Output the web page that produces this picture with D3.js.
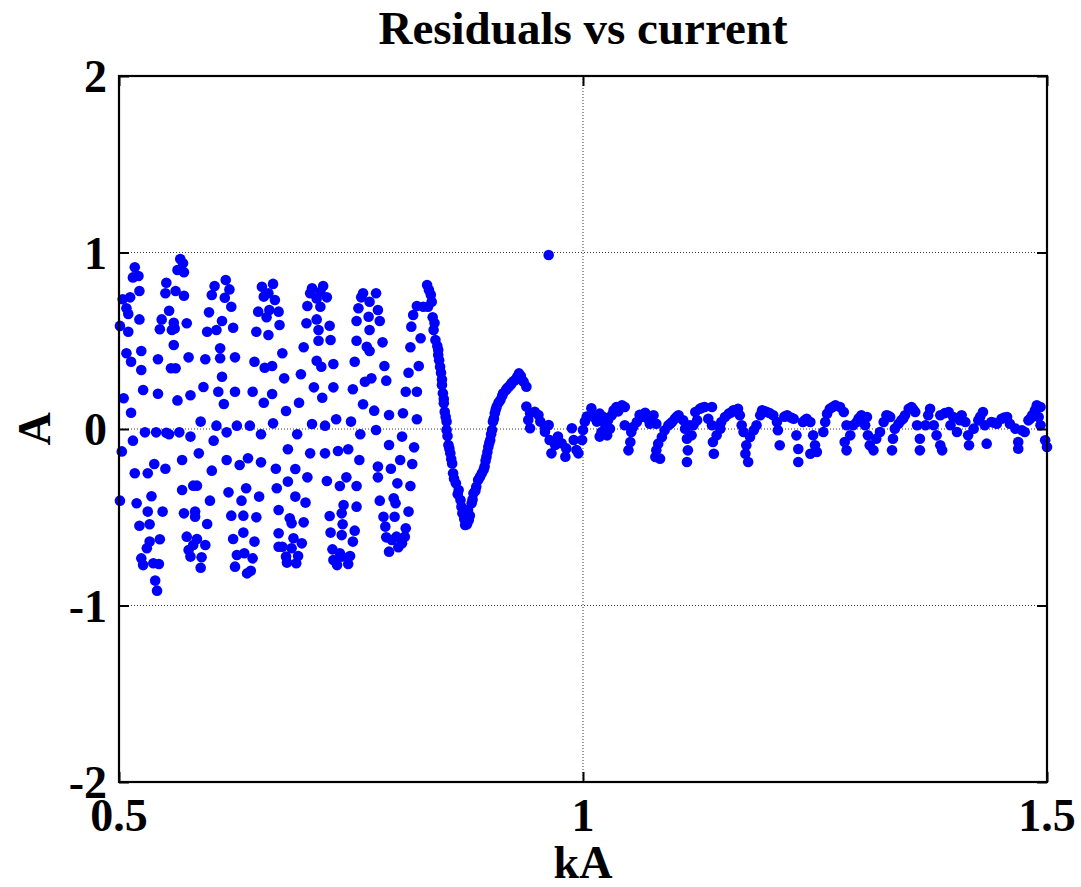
<!DOCTYPE html>
<html>
<head>
<meta charset="utf-8">
<script src="https://cdn.jsdelivr.net/npm/d3@7"></script>
<style>
  html, body { margin: 0; padding: 0; background: #fff; }
  svg { display: block; }
</style>
</head>
<body>
<svg id="chart" width="1081" height="887"></svg>
<script>
// Axis ticks and labels
const xTicks = [0.5, 1, 1.5];
const xTickLabels = ["0.5", "1", "1.5"];
const yTicks = [-2, -1, 0, 1, 2];
const yTickLabels = ["-2", "-1", "0", "1", "2"];
const titleText = "Residuals vs current";
const xLabelText = "kA";
const yLabelText = "A";

// Residual samples [current kA, residual A]
// Low-current band (0.50 - 0.83 kA)
const bandPoints = [
  [0.517,0.916],[0.515,0.859],[0.521,0.867],[0.522,0.782],[0.504,0.735],[0.512,0.746],[0.508,0.684],[0.510,0.652],
  [0.501,0.584],[0.510,0.551],[0.522,0.621],[0.508,0.429],[0.513,0.381],[0.524,0.442],[0.524,0.334],[0.505,0.174],
  [0.513,0.092],[0.526,0.221],[0.503,-0.127],[0.515,-0.066],[0.528,-0.019],[0.540,-0.019],[0.551,-0.021],[0.554,-0.030],
  [0.565,-0.019],[0.577,-0.043],[0.517,-0.251],[0.531,-0.251],[0.538,-0.198],[0.550,-0.225],[0.501,-0.406],[0.519,-0.421],
  [0.535,-0.381],[0.531,-0.468],[0.522,-0.548],[0.533,-0.540],[0.547,-0.468],[0.533,-0.638],[0.530,-0.676],[0.544,-0.625],
  [0.524,-0.733],[0.526,-0.771],[0.537,-0.761],[0.543,-0.765],[0.539,-0.859],[0.541,-0.916],
  [0.566,0.963],[0.569,0.939],[0.563,0.901],[0.570,0.888],[0.551,0.829],[0.550,0.769],[0.561,0.782],[0.570,0.755],
  [0.554,0.670],[0.546,0.621],[0.559,0.602],[0.573,0.599],[0.544,0.565],[0.557,0.561],[0.560,0.570],[0.559,0.476],
  [0.542,0.395],[0.575,0.406],[0.556,0.344],[0.561,0.344],[0.542,0.200],[0.563,0.162],[0.577,0.191],[0.591,0.238],
  [0.588,0.042],[0.586,-0.138],[0.568,-0.176],[0.600,-0.236],[0.580,-0.321],[0.584,-0.321],[0.568,-0.346],[0.598,-0.406],
  [0.570,-0.478],[0.582,-0.468],[0.582,-0.497],[0.595,-0.538],[0.573,-0.610],[0.584,-0.623],[0.593,-0.657],[0.575,-0.686],
  [0.577,-0.723],[0.589,-0.727],[0.588,-0.786],[0.580,-0.657],
  [0.615,0.844],[0.603,0.810],[0.619,0.791],[0.600,0.759],[0.614,0.744],[0.621,0.693],[0.597,0.661],[0.611,0.612],
  [0.595,0.551],[0.605,0.561],[0.623,0.574],[0.609,0.457],[0.609,0.401],[0.625,0.406],[0.593,0.395],[0.611,0.296],
  [0.607,0.211],[0.613,0.142],[0.625,0.211],[0.605,0.019],[0.602,-0.066],[0.616,-0.019],[0.627,0.019],[0.616,-0.176],
  [0.630,-0.204],[0.639,-0.166],[0.618,-0.359],[0.637,-0.336],[0.632,-0.406],[0.651,-0.383],[0.621,-0.491],[0.634,-0.491],
  [0.648,-0.500],[0.623,-0.623],[0.634,-0.587],[0.646,-0.638],[0.627,-0.714],[0.635,-0.704],[0.625,-0.780],[0.644,-0.733],
  [0.638,-0.818],[0.642,-0.803],
  [0.654,0.806],[0.656,0.750],[0.661,0.769],[0.650,0.665],[0.662,0.674],[0.659,0.633],[0.648,0.551],[0.661,0.533],
  [0.646,0.381],[0.657,0.347],[0.665,0.357],[0.644,0.211],[0.656,0.149],[0.665,0.198],[0.641,0.019],[0.653,-0.030],
  [0.666,0.032],[0.653,-0.189],[0.669,-0.225],[0.670,-0.336],[0.672,-0.459],[0.672,-0.591],[0.672,-0.667],[0.666,0.822],
  [0.668,0.731],[0.672,0.665],
  [0.673,0.589],[0.676,0.429],[0.678,0.287],[0.680,0.102],[0.682,-0.115],
  [0.676,-0.667],[0.680,-0.723],[0.681,-0.757],[0.693,-0.720],[0.691,-0.761],[0.686,-0.676],[0.688,-0.619],[0.697,-0.648],
  [0.684,-0.506],[0.686,-0.534],[0.699,-0.529],[0.690,-0.383],[0.701,-0.417],
  [0.682,-0.298],[0.690,-0.227],[0.703,-0.274],[0.692,-0.030],[0.706,-0.138],
  [0.694,0.149],[0.696,0.310],[0.699,0.463],[0.702,0.599],[0.703,0.697],
  [0.708,0.797],[0.706,0.769],[0.720,0.810],[0.717,0.778],[0.724,0.746],[0.713,0.740],[0.717,0.693],[0.713,0.621],
  [0.715,0.561],[0.727,0.585],[0.715,0.500],[0.728,0.504],[0.713,0.387],[0.718,0.353],[0.731,0.368],
  [0.710,0.236],[0.719,0.177],[0.731,0.236],[0.708,0.028],[0.722,0.019],[0.734,0.055],[0.750,0.042],
  [0.722,-0.138],[0.736,-0.125],[0.747,-0.115],[0.759,-0.176],[0.724,-0.295],[0.738,-0.323],[0.745,-0.274],[0.756,-0.323],
  [0.727,-0.493],[0.740,-0.478],[0.742,-0.431],[0.756,-0.440],[0.728,-0.587],[0.740,-0.601],[0.741,-0.540],[0.754,-0.576],
  [0.752,-0.638],[0.730,-0.682],[0.731,-0.742],[0.738,-0.704],[0.735,-0.771],[0.747,-0.765],[0.749,-0.720],[0.740,-0.723],
  [0.763,0.769],[0.761,0.746],[0.777,0.769],[0.770,0.721],[0.779,0.674],[0.758,0.684],[0.769,0.636],[0.756,0.612],
  [0.781,0.612],[0.770,0.561],[0.756,0.500],[0.767,0.466],[0.770,0.442],[0.784,0.491],[0.754,0.381],[0.786,0.357],
  [0.765,0.268],[0.772,0.287],[0.788,0.274],[0.752,0.225],[0.763,0.140],[0.775,0.104],[0.791,0.079],[0.760,-0.030],
  [0.777,-0.006],[0.806,0.089],[0.821,0.055],[0.805,-0.043],[0.791,-0.091],[0.818,-0.104],
  [0.779,-0.213],[0.793,-0.225],[0.803,-0.176],[0.816,-0.198],[0.779,-0.274],[0.800,-0.308],[0.814,-0.323],
  [0.781,-0.406],[0.796,-0.393],[0.798,-0.421],[0.812,-0.468],[0.785,-0.497],[0.787,-0.553],[0.797,-0.497],[0.809,-0.563],
  [0.788,-0.614],[0.794,-0.629],[0.799,-0.610],[0.805,-0.648],[0.808,-0.610],[0.791,-0.695],[0.801,-0.670],
  [0.821,0.697],[0.817,0.646],[0.815,0.580],[0.825,0.514],[0.814,0.463],[0.823,0.357],[0.812,0.319],[0.809,0.211],
  [0.821,0.211]
];

// Transition swing (0.83 - 1.02 kA)
const transitionPoints = [
  [0.832,0.816],[0.834,0.788],[0.837,0.721],[0.833,0.693],[0.838,0.633],[0.828,0.693],[0.839,0.561],[0.841,0.504],
  [0.844,0.448],[0.844,0.419],[0.846,0.353],[0.847,0.319],[0.848,0.249],[0.849,0.202],[0.850,0.146],[0.851,0.098],
  [0.853,0.042],[0.853,-0.006],[0.855,-0.091],[0.857,-0.138],[0.859,-0.195],[0.860,-0.251],[0.863,-0.308],[0.866,-0.346],
  [0.868,-0.402],[0.870,-0.478],[0.873,-0.544],[0.877,-0.516],[0.876,-0.459],[0.880,-0.421],[0.882,-0.364],[0.885,-0.327],
  [0.887,-0.289],[0.891,-0.251],[0.894,-0.213],[0.896,-0.157],[0.898,-0.100],[0.900,-0.062],[0.902,-0.006],[0.903,0.042],
  [0.905,0.089],[0.907,0.127],[0.911,0.164],[0.914,0.202],[0.917,0.221],[0.920,0.240],[0.923,0.259],[0.927,0.278],
  [0.931,0.315],[0.936,0.268],[0.939,0.240],[0.939,0.127],[0.943,0.089],[0.941,0.051],[0.943,0.004],[0.948,0.098],
  [0.952,0.079],[0.954,0.042],[0.959,0.013],[0.963,0.023],[0.959,-0.015],[0.964,-0.062],[0.966,-0.138],[0.970,-0.091],
  [0.973,-0.043],[0.977,-0.081],[0.981,-0.157],[0.982,-0.110],[0.988,0.004],[0.990,-0.062],[0.993,-0.119],[0.995,-0.138],
  [0.999,-0.062],[1.000,-0.006],[1.002,0.042],[1.004,0.070],[1.009,0.117],[1.011,0.070],[1.015,0.042],[1.018,-0.043],
  [0.836,0.760],[0.840,0.600],[0.843,0.470],[0.845,0.390],[0.848,0.280],[0.850,0.170],[0.852,0.070],[0.854,-0.040],
  [0.856,-0.110],[0.858,-0.170],[0.861,-0.280],[0.865,-0.370],[0.869,-0.440],[0.872,-0.510],[0.875,-0.540],
  [0.878,-0.490],[0.881,-0.400],[0.884,-0.350],[0.889,-0.270],[0.893,-0.230],[0.895,-0.180],[0.897,-0.130],[0.899,-0.080],
  [0.901,-0.030],[0.904,0.060],[0.906,0.110],[0.909,0.150],[0.913,0.190],[0.918,0.230],[0.922,0.250],[0.925,0.270],
  [0.929,0.295],[0.933,0.300],[0.934,0.280]
];

// Isolated sample
const outlierPoints = [[0.963,0.986]];

// High-current ripple (1.02 - 1.50 kA)
const ripplePoints = [
  [1.020,-0.017],[1.024,0.021],[1.027,0.049],[1.031,0.078],[1.033,0.106],[1.036,0.125],[1.042,0.134],[1.045,0.125],
  [1.026,-0.036],[1.029,0.002],[1.022,0.068],[1.018,0.087],[1.045,0.021],[1.049,-0.121],[1.051,-0.074],[1.052,-0.017],
  [1.054,0.011],[1.058,0.040],[1.063,0.068],[1.067,0.092],[1.070,0.058],[1.076,0.078],[1.079,0.030],[1.072,0.030],
  [1.078,-0.159],[1.079,-0.121],[1.081,-0.083],[1.085,-0.045],[1.088,-0.007],[1.092,0.021],[1.096,0.040],[1.099,0.058],
  [1.103,0.078],[1.108,0.049],[1.110,0.002],[1.112,-0.055],[1.112,-0.187],[1.113,-0.121],[1.115,0.021],[1.083,-0.168],
  [1.119,0.021],[1.121,0.096],[1.126,0.115],[1.131,0.125],[1.139,0.125],[1.135,0.058],[1.139,0.021],[1.123,0.049],
  [1.117,-0.036],[1.140,-0.074],[1.141,-0.140],[1.144,-0.036],[1.148,0.002],[1.149,0.040],[1.153,0.068],[1.157,0.087],
  [1.162,0.106],[1.167,0.115],[1.169,0.078],[1.171,0.021],[1.173,-0.017],[1.175,-0.140],[1.178,-0.187],[1.176,-0.092],
  [1.180,-0.045],[1.184,-0.007],[1.187,0.021],[1.191,0.078],[1.193,0.106],[1.198,0.096],[1.205,0.078],[1.209,0.040],
  [1.210,-0.007],[1.212,-0.092],[1.220,0.078],[1.227,0.058],[1.230,-0.036],[1.232,-0.113],[1.232,-0.187],[1.237,0.040],
  [1.241,0.058],[1.245,-0.140],
  [1.245,0.040],[1.248,-0.036],[1.250,-0.092],[1.252,-0.130],[1.259,-0.017],[1.261,0.040],[1.263,0.087],[1.266,0.115],
  [1.272,0.134],[1.277,0.125],[1.281,0.096],[1.284,0.021],[1.282,-0.074],[1.284,-0.121],[1.288,-0.036],[1.291,0.021],
  [1.295,0.040],[1.300,0.078],[1.306,0.068],[1.304,0.021],[1.307,-0.036],[1.309,-0.092],[1.313,-0.121],[1.316,-0.055],
  [1.320,-0.017],[1.324,0.040],[1.327,0.078],[1.331,0.068],[1.333,-0.121],[1.334,-0.055],[1.336,0.002],[1.340,0.030],
  [1.343,0.049],[1.347,0.078],[1.351,0.115],[1.354,0.125],[1.358,0.096],[1.360,0.021],[1.363,-0.055],[1.363,-0.121],
  [1.369,0.021],[1.372,0.078],[1.374,0.115],
  [1.378,0.021],[1.381,-0.036],[1.385,-0.092],[1.387,-0.121],[1.385,0.078],[1.394,0.096],[1.399,0.068],[1.396,0.021],
  [1.403,-0.017],[1.408,0.078],[1.412,0.040],[1.415,-0.036],[1.416,-0.092],[1.421,0.002],[1.426,0.049],[1.431,0.096],
  [1.433,0.021],[1.435,-0.083],[1.440,0.040],[1.446,0.030],[1.451,0.058],[1.457,0.068],[1.460,0.030],[1.466,0.002],
  [1.469,-0.074],[1.469,-0.112],[1.473,-0.007],[1.476,-0.017],[1.480,0.049],[1.484,0.078],[1.487,0.106],[1.489,0.134],
  [1.493,0.125],[1.491,0.068],[1.493,0.021],[1.498,-0.064],[1.500,-0.102],
  [1.038,0.100],[1.061,0.080],[1.094,0.030],[1.101,0.070],[1.128,0.120],[1.160,0.095],[1.196,0.100],[1.201,0.090],
  [1.217,0.070],[1.224,0.065],[1.239,0.050],[1.269,0.125],[1.297,0.060],[1.329,0.075],[1.345,0.060],[1.356,0.110],
  [1.390,0.090],[1.406,0.050],[1.428,0.070],[1.443,0.035],[1.454,0.065],[1.482,0.060]
];

const allPoints = [...bandPoints, ...transitionPoints, ...outlierPoints, ...ripplePoints];

const svg = d3.select("#chart");
const W = 1081, H = 887;
const margin = { left: 119, right: W - 1047, top: 76, bottom: H - 782 };
const FONT = "'Liberation Serif', 'Times New Roman', serif";

svg.append("rect").attr("width", W).attr("height", H).attr("fill", "#fff");

const x = d3.scaleLinear().domain([0.5, 1.5]).range([margin.left, W - margin.right]);
const y = d3.scaleLinear().domain([-2, 2]).range([H - margin.bottom, margin.top]);

const plot = svg.append("g");

// Dotted grid
const grid = plot.append("g")
  .attr("stroke", "#3a3a3a")
  .attr("stroke-width", 1)
  .attr("stroke-dasharray", "1,2");
grid.selectAll("line.gx")
  .data(xTicks.filter(t => t > 0.5 && t < 1.5))
  .join("line")
  .attr("x1", d => x(d)).attr("x2", d => x(d))
  .attr("y1", y(2)).attr("y2", y(-2));
grid.selectAll("line.gy")
  .data(yTicks.filter(t => t > -2 && t < 2))
  .join("line")
  .attr("class", "gy")
  .attr("x1", x(0.5)).attr("x2", x(1.5))
  .attr("y1", d => y(d)).attr("y2", d => y(d));

// Residual markers
plot.append("g")
  .attr("fill", "#0000ff")
  .selectAll("circle")
  .data(allPoints)
  .join("circle")
  .attr("cx", d => x(d[0]))
  .attr("cy", d => y(d[1]))
  .attr("r", 5.3);

// Axes with inward ticks on all four sides
const tickLen = 10;
const axisStyle = g => {
  g.select(".domain").remove();
  g.selectAll(".tick line").attr("stroke", "#000").attr("stroke-width", 2);
  g.selectAll(".tick text").remove();
};
svg.append("g").attr("transform", `translate(0,${y(-2)})`)
  .call(d3.axisBottom(x).tickValues(xTicks).tickSizeInner(-tickLen).tickSizeOuter(0))
  .call(axisStyle);
svg.append("g").attr("transform", `translate(0,${y(2)})`)
  .call(d3.axisTop(x).tickValues(xTicks).tickSizeInner(-tickLen).tickSizeOuter(0))
  .call(axisStyle);
svg.append("g").attr("transform", `translate(${x(0.5)},0)`)
  .call(d3.axisLeft(y).tickValues(yTicks).tickSizeInner(-tickLen).tickSizeOuter(0))
  .call(axisStyle);
svg.append("g").attr("transform", `translate(${x(1.5)},0)`)
  .call(d3.axisRight(y).tickValues(yTicks).tickSizeInner(-tickLen).tickSizeOuter(0))
  .call(axisStyle);

// Axes box
svg.append("rect")
  .attr("x", x(0.5)).attr("y", y(2))
  .attr("width", x(1.5) - x(0.5)).attr("height", y(-2) - y(2))
  .attr("fill", "none").attr("stroke", "#000").attr("stroke-width", 2.2);

// Tick labels
const labelSize = 46;
svg.append("g").selectAll("text")
  .data(xTicks)
  .join("text")
  .attr("x", d => x(d))
  .attr("y", y(-2) + 49)
  .attr("text-anchor", "middle")
  .attr("font-family", FONT).attr("font-weight", "bold").attr("font-size", labelSize)
  .text((d, i) => xTickLabels[i]);

svg.append("g").selectAll("text")
  .data(yTicks)
  .join("text")
  .attr("x", x(0.5) - 12)
  .attr("y", d => y(d) + 16)
  .attr("text-anchor", "end")
  .attr("font-family", FONT).attr("font-weight", "bold").attr("font-size", labelSize)
  .text((d, i) => yTickLabels[i]);

// Title and axis labels
svg.append("text")
  .attr("x", (x(0.5) + x(1.5)) / 2)
  .attr("y", 44)
  .attr("text-anchor", "middle")
  .attr("font-family", FONT).attr("font-weight", "bold").attr("font-size", 47)
  .text(titleText);

svg.append("text")
  .attr("x", (x(0.5) + x(1.5)) / 2)
  .attr("y", 878)
  .attr("text-anchor", "middle")
  .attr("font-family", FONT).attr("font-weight", "bold").attr("font-size", labelSize)
  .text(xLabelText);

svg.append("text")
  .attr("transform", `translate(50,${y(0)}) rotate(-90)`)
  .attr("text-anchor", "middle")
  .attr("font-family", FONT).attr("font-weight", "bold").attr("font-size", labelSize)
  .text(yLabelText);
</script>
</body>
</html>
